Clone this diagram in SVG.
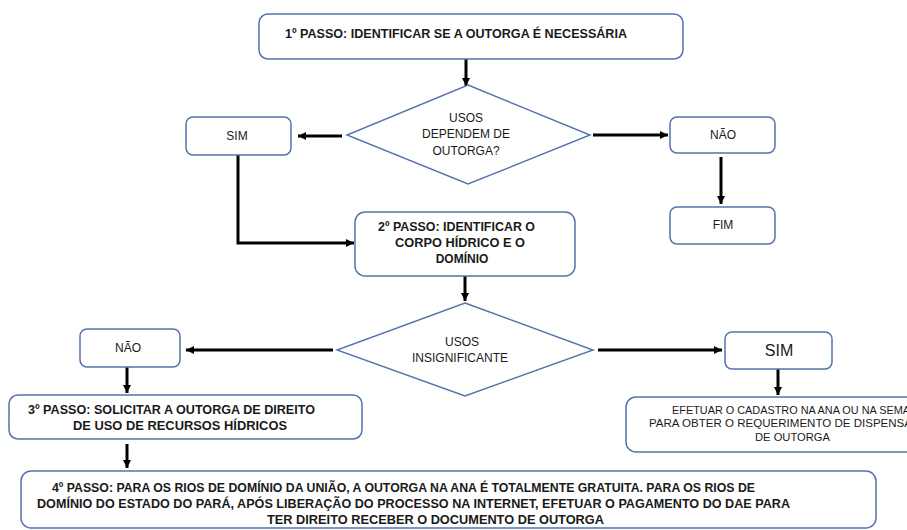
<svg xmlns="http://www.w3.org/2000/svg" width="907" height="530" viewBox="0 0 907 530">
<defs>
<marker id="ah" markerUnits="userSpaceOnUse" markerWidth="9" markerHeight="8" refX="8" refY="4" orient="auto">
<path d="M0,0 L8,4 L0,8 z" fill="#000"/>
</marker>
<style>
.box{fill:#fff;stroke:#5473AC;stroke-width:1.5}
.dia{fill:#fff;stroke:#5473AC;stroke-width:1.4}
.t{font-family:"Liberation Sans",Arial,sans-serif;fill:#1a1a1a;font-size:12px}
.b{font-weight:bold}
.c{text-anchor:middle}
.con{fill:none;stroke:#000;stroke-width:3;marker-end:url(#ah)}
</style>
</defs>
<rect width="907" height="530" fill="#fff"/>
<g id="connectors">
<path class="con" d="M466,59 V86"/>
<path class="con" d="M342,136 H298"/>
<path class="con" d="M593,135 H668"/>
<path class="con" d="M721,157 V204"/>
<path class="con" d="M238,155 V243 H354"/>
<path class="con" d="M465,276 V301"/>
<path class="con" d="M333,350 H186"/>
<path class="con" d="M598,350 H722"/>
<path class="con" d="M778,369 V395"/>
<path class="con" d="M127,367 V393"/>
<path class="con" d="M127,444 V468"/>
</g>
<g id="step1">
<rect class="box" x="259" y="14" width="424" height="45" rx="9"/>
<text class="t b" x="285" y="37.5" textLength="342" lengthAdjust="spacingAndGlyphs">1º PASSO: IDENTIFICAR SE A OUTORGA É NECESSÁRIA</text>
</g>
<g id="decision1">
<polygon class="dia" points="468,85 590,135 468,184 347,135"/>
<text class="t c" x="466" y="122">USOS</text>
<text class="t c" x="466" y="138">DEPENDEM DE</text>
<text class="t c" x="466" y="155">OUTORGA?</text>
</g>
<g id="sim1">
<rect class="box" x="186" y="117" width="105" height="38" rx="7"/>
<text class="t c" x="237" y="140">SIM</text>
</g>
<g id="nao1">
<rect class="box" x="670" y="117" width="105" height="36" rx="7"/>
<text class="t c" x="723" y="139">NÃO</text>
</g>
<g id="fim">
<rect class="box" x="670" y="207" width="105" height="37" rx="7"/>
<text class="t c" x="723" y="229">FIM</text>
</g>
<g id="step2">
<rect class="box" x="355" y="212" width="220" height="64" rx="10"/>
<text class="t b" x="378" y="231" textLength="157" lengthAdjust="spacingAndGlyphs">2º PASSO: IDENTIFICAR O</text>
<text class="t b" x="395" y="247" textLength="130" lengthAdjust="spacingAndGlyphs">CORPO HÍDRICO E O</text>
<text class="t b c" x="462" y="263">DOMÍNIO</text>
</g>
<g id="decision2">
<polygon class="dia" points="465,303 593,350 465,396 337,350"/>
<text class="t c" x="462" y="346">USOS</text>
<text class="t c" x="460" y="362">INSIGNIFICANTE</text>
</g>
<g id="nao2">
<rect class="box" x="80" y="329" width="100" height="38" rx="7"/>
<text class="t c" x="128" y="352">NÃO</text>
</g>
<g id="sim2">
<rect class="box" x="725" y="332" width="107" height="37" rx="7"/>
<text class="t c" x="779" y="356" style="font-size:16px">SIM</text>
</g>
<g id="dispensa">
<rect class="box" x="626" y="397" width="340" height="55" rx="10"/>
<text class="t" x="672" y="414" style="font-size:11px" textLength="238" lengthAdjust="spacingAndGlyphs">EFETUAR O CADASTRO NA ANA OU NA SEMA</text>
<text class="t" x="649" y="427" style="font-size:11px" textLength="263" lengthAdjust="spacingAndGlyphs">PARA OBTER O REQUERIMENTO DE DISPENSA</text>
<text class="t" x="755" y="441" style="font-size:11px" textLength="75" lengthAdjust="spacingAndGlyphs">DE OUTORGA</text>
</g>
<g id="step3">
<rect class="box" x="9" y="395" width="353" height="44" rx="9"/>
<text class="t b" x="28" y="414" textLength="287" lengthAdjust="spacingAndGlyphs">3º PASSO:  SOLICITAR A OUTORGA DE DIREITO</text>
<text class="t b" x="73" y="430" textLength="214" lengthAdjust="spacingAndGlyphs">DE USO DE RECURSOS HÍDRICOS</text>
</g>
<g id="step4">
<rect class="box" x="21" y="471" width="855" height="57" rx="10"/>
<text class="t b" x="52" y="492" textLength="703" lengthAdjust="spacingAndGlyphs">4º PASSO: PARA OS RIOS DE DOMÍNIO DA UNIÃO, A OUTORGA NA ANA É TOTALMENTE GRATUITA. PARA OS RIOS DE</text>
<text class="t b" x="37" y="508" textLength="753" lengthAdjust="spacingAndGlyphs">DOMÍNIO DO ESTADO DO PARÁ, APÓS LIBERAÇÃO DO PROCESSO NA INTERNET, EFETUAR O PAGAMENTO DO DAE PARA</text>
<text class="t b" x="267" y="524" textLength="337" lengthAdjust="spacingAndGlyphs">TER DIREITO RECEBER O DOCUMENTO DE OUTORGA</text>
</g>
</svg>
